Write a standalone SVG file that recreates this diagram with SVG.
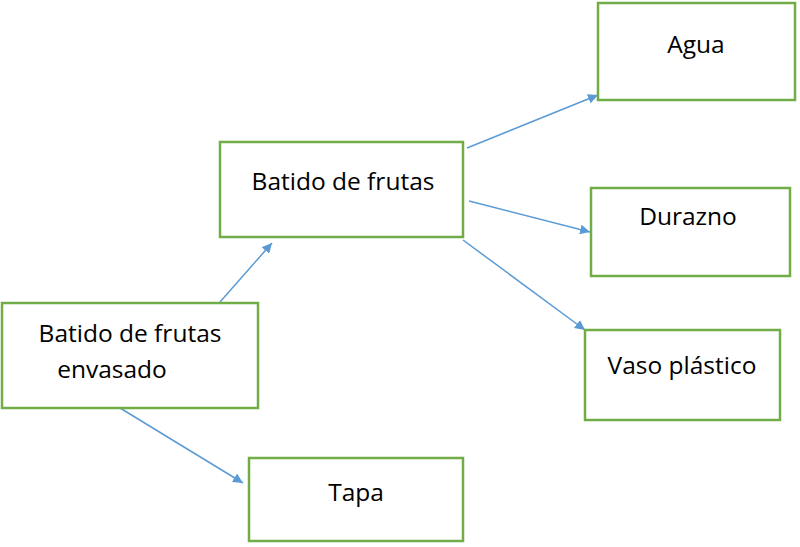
<svg xmlns="http://www.w3.org/2000/svg" width="800" height="547" viewBox="0 0 800 547">
<style>
.b{fill:#fff;stroke:#70AD47;stroke-width:2.5}
.t{font-family:"Open Sans",sans-serif;font-size:24.5px;fill:#000;text-anchor:middle}
.c{stroke:#5B9BD5;stroke-width:1.5;fill:none;marker-end:url(#a)}
</style>
<defs><marker id="a" viewBox="0 0 10 10" refX="10" refY="5" markerWidth="10" markerHeight="10" markerUnits="userSpaceOnUse" orient="auto"><path d="M0,0L10,5L0,10z" fill="#5B9BD5"/></marker></defs>
<rect width="800" height="547" fill="#fff"/>
<g id="connectors">
<line class="c" x1="220" y1="302" x2="272" y2="243"/>
<line class="c" x1="467" y1="148" x2="598" y2="95"/>
<line class="c" x1="469" y1="201" x2="590" y2="232"/>
<line class="c" x1="463" y1="240" x2="585" y2="330"/>
<line class="c" x1="120" y1="408" x2="243" y2="483"/>
</g>
<g id="agua"><rect class="b" x="598" y="3" width="197" height="97"/><text class="t" x="696" y="53">Agua</text></g>
<g id="batido"><rect class="b" x="220" y="142" width="243" height="95"/><text class="t" x="343" y="190">Batido de frutas</text></g>
<g id="durazno"><rect class="b" x="591" y="188" width="199" height="88"/><text class="t" x="688" y="225">Durazno</text></g>
<g id="envasado"><rect class="b" x="2" y="303" width="256" height="105"/><text class="t" x="130" y="342">Batido de frutas</text><text class="t" x="112" y="378">envasado</text></g>
<g id="vaso"><rect class="b" x="585" y="330" width="195" height="90"/><text class="t" x="682" y="374">Vaso plástico</text></g>
<g id="tapa"><rect class="b" x="249" y="458" width="214" height="83"/><text class="t" x="356" y="501">Tapa</text></g>
</svg>
